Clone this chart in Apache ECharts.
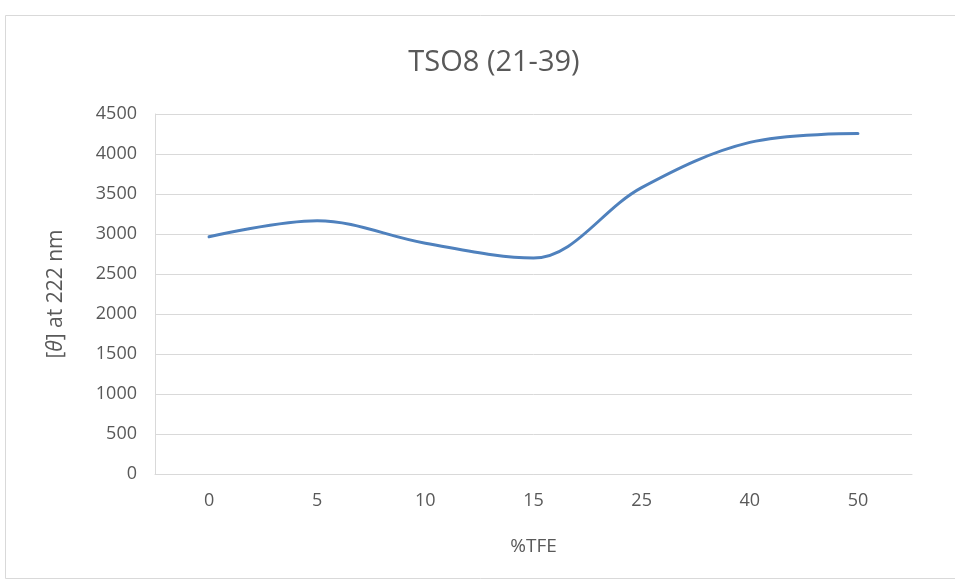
<!DOCTYPE html>
<html><head><meta charset="utf-8">
<script src="https://cdn.jsdelivr.net/npm/echarts@6/dist/echarts.min.js"></script>
<style>html,body{margin:0;padding:0;background:#fff}#c{width:955px;height:582px}</style>
</head><body><div id="c"></div>
<script>
const categories = ['0','5','10','15','25','40','50'];
const values = [2965, 3165, 2885, 2700, 3580, 4145, 4255];
const yTicks = {min: 0, max: 4500, interval: 500};
const chart = echarts.init(document.getElementById('c'), null, {renderer: 'canvas'});
const font = 'Open Sans';
chart.setOption({
  animation: false,
  backgroundColor: '#fff',
  title: {text: 'TSO8 (21-39)', left: 489, top: 43, textAlign: 'center',
    textStyle: {fontFamily: font, fontSize: 29, fontWeight: 'normal', color: '#595959'}},
  graphic: [{type: 'rect', shape: {x: 5.5, y: 15.5, width: 1000, height: 563}, style: {fill: 'none', stroke: '#d9d9d9', lineWidth: 1}, silent: true}],
  grid: {left: 155, right: 43, top: 114, bottom: 108},
  xAxis: {type: 'category', data: categories, boundaryGap: true,
    name: '%TFE', nameLocation: 'middle', nameGap: 63,
    nameTextStyle: {fontFamily: font, fontSize: 19, color: '#595959'},
    axisLine: {lineStyle: {color: '#d9d9d9', width: 1}}, axisTick: {show: false},
    axisLabel: {fontFamily: font, fontSize: 18, color: '#595959', margin: 18}},
  yAxis: {type: 'value', min: yTicks.min, max: yTicks.max, interval: yTicks.interval,
    name: '[{i|θ}] at 222 nm', nameLocation: 'middle', nameGap: 88, nameRotate: 90,
    nameTextStyle: {fontFamily: font, fontSize: 21, color: '#595959',
      rich: {i: {fontFamily: font, fontSize: 21, fontStyle: 'italic', color: '#595959'}}},
    axisLine: {show: true, lineStyle: {color: '#d9d9d9', width: 1}}, axisTick: {show: false},
    splitLine: {lineStyle: {color: '#d9d9d9', width: 1}},
    axisLabel: {fontFamily: font, fontSize: 18, color: '#595959', margin: 18, formatter: v => String(v)}},
  series: [{type: 'line', data: values, smooth: 0.35, symbol: 'none',
    lineStyle: {color: '#4f81bd', width: 3, cap: 'round'}}]
});
</script></body></html>
